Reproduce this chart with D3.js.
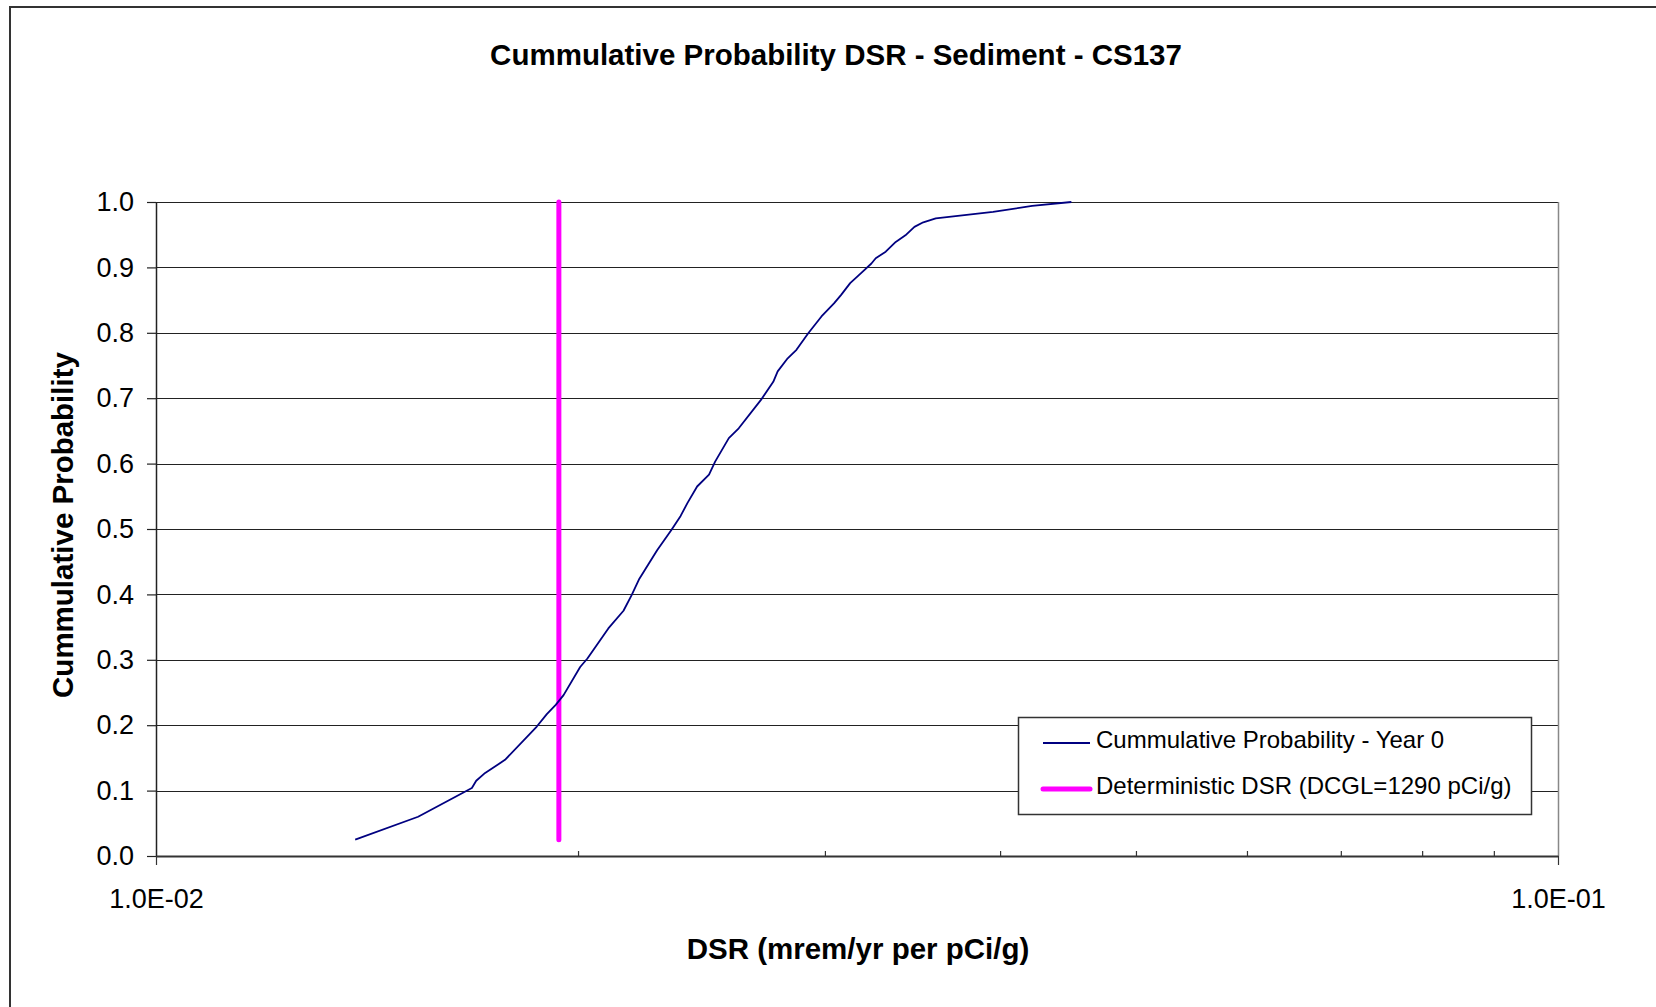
<!DOCTYPE html>
<html>
<head>
<meta charset="utf-8">
<script src="https://cdn.jsdelivr.net/npm/d3@7"></script>
<style>
  body { margin: 0; background: #fff; }
  svg { display: block; font-family: "Liberation Sans", Arial, sans-serif; }
</style>
</head>
<body>
<script>
"use strict";

// Size of the page
let w = 1656;
let h = 1007;

// Cumulative probability curve, year 0
let dsrValues = [0.01387, 0.01538, 0.01680, 0.01692, 0.01717, 0.01774, 0.01869, 0.01900,
                 0.01928, 0.01953, 0.02007, 0.02031, 0.02102, 0.02155, 0.02184, 0.02212,
                 0.02245, 0.02278, 0.02332, 0.02367, 0.02394, 0.02432, 0.02480, 0.02505,
                 0.02562, 0.02604, 0.02700, 0.02756, 0.02776, 0.02822, 0.02863, 0.02918,
                 0.02983, 0.03045, 0.03081, 0.03127, 0.03182, 0.03238, 0.03261, 0.03315,
                 0.03370, 0.03424, 0.03475, 0.03526, 0.03599, 0.03954, 0.04216, 0.04497];
let cumProb = [0.025, 0.060, 0.104, 0.115, 0.127, 0.147, 0.198, 0.217,
               0.231, 0.246, 0.289, 0.302, 0.348, 0.375, 0.399, 0.424,
               0.446, 0.468, 0.499, 0.520, 0.540, 0.565, 0.583, 0.603,
               0.639, 0.654, 0.697, 0.725, 0.741, 0.761, 0.774, 0.799,
               0.825, 0.845, 0.858, 0.876, 0.891, 0.906, 0.914, 0.924,
               0.939, 0.949, 0.962, 0.969, 0.975, 0.985, 0.994, 1.000];

// Deterministic DSR = 25 mrem/yr / 1290 pCi/g
let detDsr = [0.01938, 0.01938];
let detProb = [0.025, 1.0];

let yTicks = [0, 0.1, 0.2, 0.3, 0.4, 0.5, 0.6, 0.7, 0.8, 0.9, 1.0];
let xMajor = [0.01, 0.1];
let xMinor = [0.02, 0.03, 0.04, 0.05, 0.06, 0.07, 0.08, 0.09];

let title = "Cummulative Probability DSR - Sediment - CS137";
let xTitle = "DSR (mrem/yr per pCi/g)";
let yTitle = "Cummulative Probability";
let legendLabels = ["Cummulative Probability - Year 0", "Deterministic DSR (DCGL=1290 pCi/g)"];

let plot = {left: 156, right: 1558, top: 202, bottom: 856};

let x = d3.scaleLog().domain([0.01, 0.1]).range([plot.left, plot.right]);
let y = d3.scaleLinear().domain([0, 1]).range([plot.bottom, plot.top]);

let svg = d3.select("body").append("svg")
    .attr("width", w)
    .attr("height", h);

// chart area border (runs off the right and bottom of the picture)
svg.append("rect")
    .attr("x", 10).attr("y", 7)
    .attr("width", w + 50).attr("height", h + 50)
    .attr("fill", "#fff")
    .attr("stroke", "#333")
    .attr("stroke-width", 2);

// horizontal gridlines
svg.append("g")
    .selectAll("line")
    .data(yTicks.slice(1))
    .enter().append("line")
    .attr("x1", plot.left).attr("x2", plot.right)
    .attr("y1", d => Math.round(y(d)) + 0.5)
    .attr("y2", d => Math.round(y(d)) + 0.5)
    .attr("stroke", "#222")
    .attr("stroke-width", 1);

// right border of plot area
svg.append("line")
    .attr("x1", plot.right + 0.5).attr("x2", plot.right + 0.5)
    .attr("y1", plot.top).attr("y2", plot.bottom)
    .attr("stroke", "#888")
    .attr("stroke-width", 1.5);

// y axis
let yAxis = svg.append("g")
    .attr("transform", `translate(${plot.left},0)`)
    .call(d3.axisLeft(y).tickValues(yTicks).tickFormat(d3.format(".1f"))
        .tickSize(9).tickPadding(13).tickSizeOuter(0));
yAxis.select(".domain").attr("stroke", "#222").attr("stroke-width", 1.5);
yAxis.selectAll(".tick line").attr("stroke", "#222").attr("stroke-width", 1.2);
yAxis.selectAll("text")
    .attr("fill", "#000")
    .style("font-size", "27px");

// x axis, major ticks with labels
let fmtExp = d => {
    let s = d.toExponential(1).toUpperCase();   // "1.0E-2"
    return s.replace(/E([+-])(\d)$/, "E$10$2");
};
let xAxis = svg.append("g")
    .attr("transform", `translate(0,${plot.bottom})`)
    .call(d3.axisBottom(x).tickValues(xMajor).tickFormat(fmtExp)
        .tickSize(9).tickPadding(24).tickSizeOuter(0));
xAxis.select(".domain").attr("stroke", "#333").attr("stroke-width", 2);
xAxis.selectAll(".tick line").attr("stroke", "#333").attr("stroke-width", 1.2);
xAxis.selectAll("text")
    .attr("fill", "#000")
    .style("font-size", "27px");

// x axis minor ticks (pointing inward)
let xMinorAxis = svg.append("g")
    .attr("transform", `translate(0,${plot.bottom})`)
    .call(d3.axisBottom(x).tickValues(xMinor).tickFormat("").tickSize(-5).tickSizeOuter(0));
xMinorAxis.select(".domain").remove();
xMinorAxis.selectAll(".tick line").attr("stroke", "#333").attr("stroke-width", 1.2);

// deterministic DSR line
let detPts = detDsr.map((d, i) => [d, detProb[i]]);
svg.append("path")
    .datum(detPts)
    .attr("fill", "none")
    .attr("stroke", "#ff00ff")
    .attr("stroke-width", 5)
    .attr("stroke-linecap", "round")
    .attr("d", d3.line().x(d => x(d[0])).y(d => y(d[1])));

// cumulative probability curve
let cumPts = dsrValues.map((d, i) => [d, cumProb[i]]);
svg.append("path")
    .datum(cumPts)
    .attr("fill", "none")
    .attr("stroke", "#000080")
    .attr("stroke-width", 1.8)
    .attr("stroke-linejoin", "round")
    .attr("d", d3.line().x(d => x(d[0])).y(d => y(d[1])));

// titles
svg.append("text")
    .attr("x", 836).attr("y", 65)
    .attr("text-anchor", "middle")
    .style("font-size", "29.5px").style("font-weight", "bold")
    .text(title);

svg.append("text")
    .attr("x", 858).attr("y", 959)
    .attr("text-anchor", "middle")
    .style("font-size", "29.5px").style("font-weight", "bold")
    .text(xTitle);

svg.append("text")
    .attr("transform", "translate(73,525) rotate(-90)")
    .attr("text-anchor", "middle")
    .style("font-size", "29.5px").style("font-weight", "bold")
    .text(yTitle);

// legend
let legend = svg.append("g");
legend.append("rect")
    .attr("x", 1018.5).attr("y", 717.5)
    .attr("width", 513).attr("height", 97)
    .attr("fill", "#fff")
    .attr("stroke", "#333")
    .attr("stroke-width", 1.5);

let legendStyles = [{color: "#000080", width: 1.8}, {color: "#ff00ff", width: 5}];
let legendRows = legend.selectAll("g.row")
    .data(legendLabels)
    .enter().append("g")
    .attr("class", "row")
    .attr("transform", (d, i) => `translate(0,${743 + i * 46})`);
legendRows.append("line")
    .attr("x1", 1043).attr("x2", 1090)
    .attr("y1", 0).attr("y2", 0)
    .attr("stroke", (d, i) => legendStyles[i].color)
    .attr("stroke-width", (d, i) => legendStyles[i].width)
    .attr("stroke-linecap", (d, i) => i == 1 ? "round" : "butt");
legendRows.append("text")
    .attr("x", 1096).attr("y", 5)
    .style("font-size", "24px")
    .text(d => d);
</script>
</body>
</html>
